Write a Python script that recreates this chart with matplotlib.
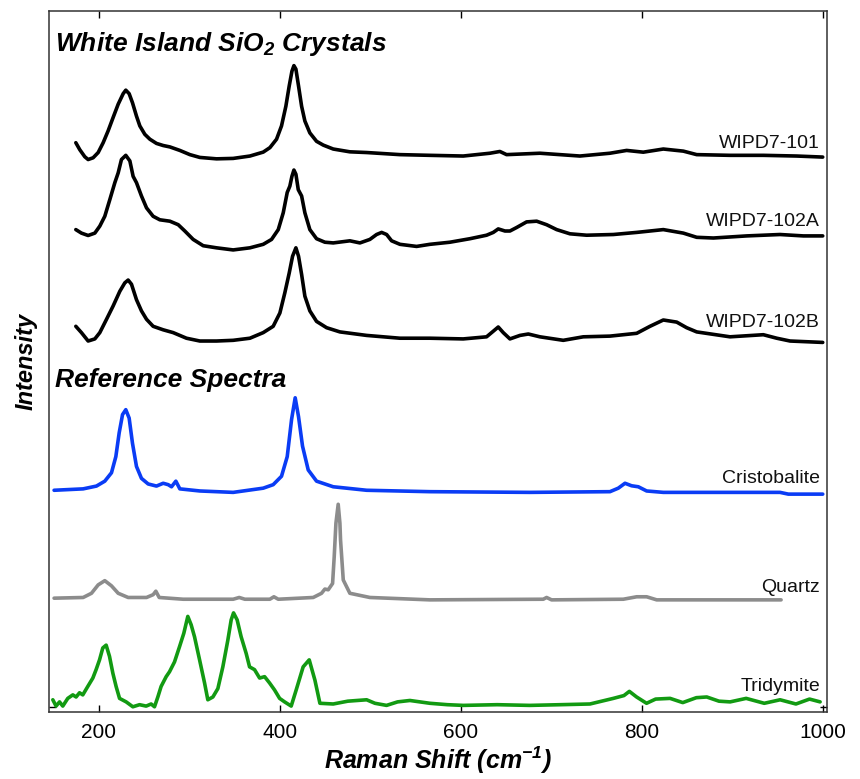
import matplotlib
matplotlib.use('Agg')
import matplotlib.pyplot as plt

plt.rcParams['font.family'] = ['Liberation Sans', 'DejaVu Sans']
plt.rcParams['mathtext.fontset'] = 'custom'
plt.rcParams['mathtext.rm'] = 'Liberation Sans:bold:italic'
plt.rcParams['mathtext.it'] = 'Liberation Sans:bold:italic'
plt.rcParams['mathtext.bf'] = 'Liberation Sans:bold:italic'

# spectra (stacked, arbitrary intensity units)
wipd101_x = [174.6, 179.0, 184.5, 188.2, 193.7, 199.3, 204.8, 210.3, 215.8, 221.4, 226.9, 229.8,
             233.5, 237.2, 241.6, 245.3, 250.8, 256.4, 263.7, 271.1, 278.5, 289.5, 300.6, 311.6,
             330.0, 348.4, 366.9, 381.6, 389.0, 396.3, 401.8, 406.6, 410.3, 413.3, 415.5, 417.7,
             420.6, 424.0, 427.6, 433.1, 440.5, 447.9, 458.9, 477.3, 495.8, 532.6, 565.7, 602.5,
             632.0, 643.0, 650.4, 687.2, 731.4, 764.6, 783.0, 801.4, 823.5, 845.6, 860.4, 897.2,
             934.0, 970.8, 999.6]
wipd101_y = [81.2, 80.2, 79.2, 78.8, 79.05, 79.8, 81.2, 82.9, 84.8, 86.7, 88.2, 88.7,
             88.2, 86.9, 85.0, 83.6, 82.4, 81.7, 81.1, 80.8, 80.6, 80.1, 79.5, 79.1,
             78.9, 78.96, 79.3, 79.86, 80.5, 81.7, 83.6, 86.4, 89.3, 91.4, 92.2, 91.7,
             89.3, 86.4, 84.3, 82.6, 81.4, 80.86, 80.3, 79.9, 79.8, 79.5, 79.4, 79.3,
             79.7, 79.95, 79.5, 79.7, 79.3, 79.7, 80.1, 79.85, 80.3, 80.0, 79.5, 79.4,
             79.4, 79.3, 79.15]

wipd102a_x = [174.6, 180.8, 188.2, 195.6, 201.1, 206.6, 212.2, 217.7, 221.4, 225.0, 229.8, 234.3,
              237.9, 241.6, 247.1, 252.7, 260.0, 267.4, 278.5, 287.7, 295.0, 304.2, 315.3, 330.0,
              348.4, 366.9, 381.6, 390.8, 398.2, 403.7, 408.1, 411.0, 413.3, 415.5, 417.7, 420.3,
              424.0, 427.6, 433.1, 440.5, 449.7, 458.9, 477.3, 488.4, 499.4, 506.8, 512.4, 517.9,
              523.4, 532.6, 551.0, 565.7, 587.8, 609.9, 628.3, 635.7, 641.2, 648.6, 654.1, 661.5,
              672.5, 683.6, 694.6, 705.7, 720.4, 738.8, 768.3, 794.1, 823.5, 845.6, 860.4, 878.8,
              915.6, 952.4, 978.2, 999.6]
wipd102a_y = [68.8, 68.3, 67.96, 68.3, 69.3, 70.7, 73.1, 75.5, 76.9, 78.8, 79.4, 78.6,
              76.4, 75.5, 73.6, 71.9, 70.7, 70.2, 70.0, 69.5, 68.6, 67.4, 66.5, 66.2,
              65.9, 66.2, 66.7, 67.4, 68.8, 71.2, 74.1, 75.0, 76.4, 77.3, 76.7, 74.5,
              73.6, 71.2, 68.8, 67.5, 67.0, 66.9, 67.2, 66.9, 67.4, 68.1, 68.4, 68.1,
              67.2, 66.7, 66.4, 66.7, 67.0, 67.5, 68.0, 68.4, 68.9, 68.6, 68.6, 69.1,
              69.9, 70.0, 69.5, 68.8, 68.2, 68.0, 68.1, 68.4, 68.8, 68.3, 67.7, 67.6,
              67.9, 68.1, 67.9, 67.9]

wipd102b_x = [174.6, 180.8, 188.2, 195.6, 201.1, 208.5, 215.8, 223.2, 228.7, 232.4, 236.1, 241.6,
              247.1, 252.7, 260.0, 271.1, 282.1, 296.8, 311.6, 330.0, 348.4, 366.9, 381.6, 392.6,
              400.0, 405.5, 410.3, 414.0, 417.7, 420.6, 424.0, 427.6, 433.1, 440.5, 451.6, 466.3,
              495.8, 532.6, 565.7, 602.5, 628.3, 635.7, 641.2, 646.7, 654.1, 665.2, 674.4, 687.2,
              713.0, 735.1, 764.6, 794.1, 808.8, 823.5, 838.3, 849.3, 860.4, 897.2, 934.0, 948.8,
              963.5, 999.6]
wipd102b_y = [55.0, 54.1, 52.9, 53.2, 54.1, 56.0, 57.9, 60.0, 61.2, 61.6, 61.0, 58.8,
              57.2, 56.0, 55.0, 54.5, 54.1, 53.3, 52.9, 52.9, 53.0, 53.3, 54.1, 55.0,
              56.9, 59.8, 62.6, 65.0, 66.2, 65.0, 62.4, 59.3, 57.2, 55.7, 54.8, 54.2,
              53.7, 53.3, 53.3, 53.2, 53.5, 54.3, 54.9, 54.1, 53.2, 53.7, 53.9, 53.5,
              53.0, 53.5, 53.6, 54.0, 55.0, 55.9, 55.6, 54.8, 54.2, 53.5, 53.8, 53.3,
              52.9, 52.7]

cristobalite_x = [150.6, 182.7, 197.4, 206.6, 214.0, 218.8, 222.5, 226.2, 229.8, 233.5, 237.2,
                  241.6, 247.1, 254.5, 263.7, 271.1, 276.6, 280.3, 285.1, 289.5, 311.6, 348.4,
                  381.6, 392.6, 401.8, 408.1, 412.9, 416.9, 420.6, 425.0, 431.3, 440.5, 458.9,
                  495.8, 565.7, 676.2, 764.6, 773.8, 781.2, 788.5, 795.9, 805.1, 823.5, 952.4,
                  961.6, 999.6]
cristobalite_y = [31.6, 31.8, 32.2, 32.9, 34.1, 36.4, 39.8, 42.4, 43.1, 41.9, 38.3,
                  35.0, 33.3, 32.5, 32.2, 32.6, 32.4, 32.1, 32.9, 31.8, 31.5, 31.3,
                  31.9, 32.4, 33.6, 36.4, 41.7, 44.8, 42.1, 37.9, 34.5, 32.9, 32.1,
                  31.6, 31.4, 31.3, 31.4, 31.9, 32.6, 32.24, 32.1, 31.5, 31.3, 31.3,
                  31.05, 31.05]

quartz_x = [150.6, 182.7, 191.9, 199.3, 206.6, 214.0, 221.4, 232.4, 252.7, 260.0, 263.0, 266.7,
            293.2, 348.4, 355.1, 361.3, 388.9, 393.4, 398.2, 436.8, 446.0, 449.7, 453.4, 458.2,
            460.0, 461.9, 464.4, 466.3, 467.0, 470.0, 477.3, 499.4, 565.7, 690.9, 694.6, 700.1,
            779.3, 794.1, 805.1, 816.2, 953.6]
quartz_y = [16.2, 16.3, 16.9, 18.1, 18.7, 17.96, 16.9, 16.3, 16.3, 16.7, 17.2, 16.3,
            16.05, 16.05, 16.3, 16.05, 16.05, 16.4, 16.05, 16.3, 16.9, 17.5, 17.4, 18.3,
            22.1, 26.9, 29.6, 26.9, 24.5, 18.8, 16.9, 16.3, 15.96, 16.05, 16.3, 15.96,
            16.05, 16.4, 16.4, 15.96, 15.96]

tridymite_x = [149.2, 152.8, 156.6, 160.2, 165.7, 171.3, 174.9, 178.7, 182.3, 187.8, 193.4, 197.0,
               200.8, 204.4, 208.1, 211.8, 215.5, 219.1, 222.9, 230.2, 237.6, 245.0, 252.3, 257.8,
               261.5, 265.2, 268.8, 274.4, 278.1, 283.6, 289.2, 293.9, 298.3, 302.0, 305.7, 311.3,
               316.8, 320.4, 326.0, 331.5, 337.0, 342.5, 346.2, 348.8, 352.8, 357.2, 362.8, 366.5,
               372.0, 377.6, 383.1, 388.6, 394.1, 399.7, 405.2, 412.5, 418.0, 425.7, 432.4, 438.7,
               444.2, 458.9, 475, 495.8, 505, 517.8, 530, 543.6, 565.7, 585, 602.6, 640, 676, 710,
               742.5, 768.3, 780, 786, 794, 805, 815, 831, 845, 860, 871.5, 885, 897.3, 915, 935,
               952.5, 970, 985, 996.7]
tridymite_y = [1.7, 0.8, 1.4, 0.8, 1.9, 2.4, 2.1, 2.7, 2.4, 3.6, 4.8, 6.0,
               7.4, 9.1, 9.5, 7.9, 5.5, 3.6, 1.9, 1.4, 0.7, 1.0, 0.8, 1.1,
               0.7, 2.1, 3.6, 5.0, 5.7, 7.1, 9.3, 11.2, 13.6, 12.4, 10.7, 7.4,
               4.1, 1.7, 2.1, 3.3, 6.4, 10.2, 13.1, 14.1, 13.1, 10.7, 8.3, 6.4,
               6.0, 4.8, 5.0, 4.1, 3.1, 1.9, 1.4, 0.8, 3.1, 6.4, 7.4, 4.5,
               1.2, 1.1, 1.5, 1.7, 1.2, 0.9, 1.4, 1.6, 1.2, 1.0, 0.9, 1.0, 0.9, 1.0,
               1.1, 1.9, 2.3, 2.9, 2.1, 1.2, 1.8, 1.9, 1.3, 2.0, 2.1, 1.5, 1.4, 1.9, 1.2,
               1.7, 1.1, 1.8, 1.4]

series = [
    (wipd101_x, wipd101_y, 'black', 'WIPD7-101', 80.5),
    (wipd102a_x, wipd102a_y, 'black', 'WIPD7-102A', 69.3),
    (wipd102b_x, wipd102b_y, 'black', 'WIPD7-102B', 54.9),
    (cristobalite_x, cristobalite_y, '#0a3cf5', 'Cristobalite', 32.6),
    (quartz_x, quartz_y, '#8c8c8c', 'Quartz', 17.1),
    (tridymite_x, tridymite_y, '#129a12', 'Tridymite', 3.0),
]

fig = plt.figure(figsize=(8.6, 7.79), dpi=100)
ax = fig.add_axes([0.057, 0.0864, 0.9043, 0.8995])

for xs, ys, col, name, label_y in series:
    ax.plot(xs, ys, color=col, lw=2.6, solid_joinstyle='round', solid_capstyle='round')
    ax.text(996.7, label_y, name, ha='right', va='baseline', fontsize=14, color='#111111')

ax.text(151.4, 94.3, r'White Island SiO$_2$ Crystals', fontsize=19, fontweight='bold',
        fontstyle='italic', va='baseline')
ax.text(151.4, 46.4, 'Reference Spectra', fontsize=19, fontweight='bold',
        fontstyle='italic', va='baseline')

ax.set_xlim(145, 1004)
ax.set_ylim(0, 100)
ax.set_xticks([200, 400, 600, 800, 1000])
ax.set_yticks([0.7])
ax.set_yticklabels([])
ax.tick_params(direction='in', top=True, right=True, length=5, width=1, labelsize=15, pad=8)
for s in ax.spines.values():
    s.set_linewidth(1.1)
    s.set_color('#333333')

ax.set_xlabel(r'Raman Shift (cm$^{-1}$)', fontsize=18, fontweight='bold', fontstyle='italic',
              labelpad=2)
ax.set_ylabel('Intensity', fontsize=17, fontweight='bold', fontstyle='italic', labelpad=0)

fig.savefig('out.png', dpi=100)
